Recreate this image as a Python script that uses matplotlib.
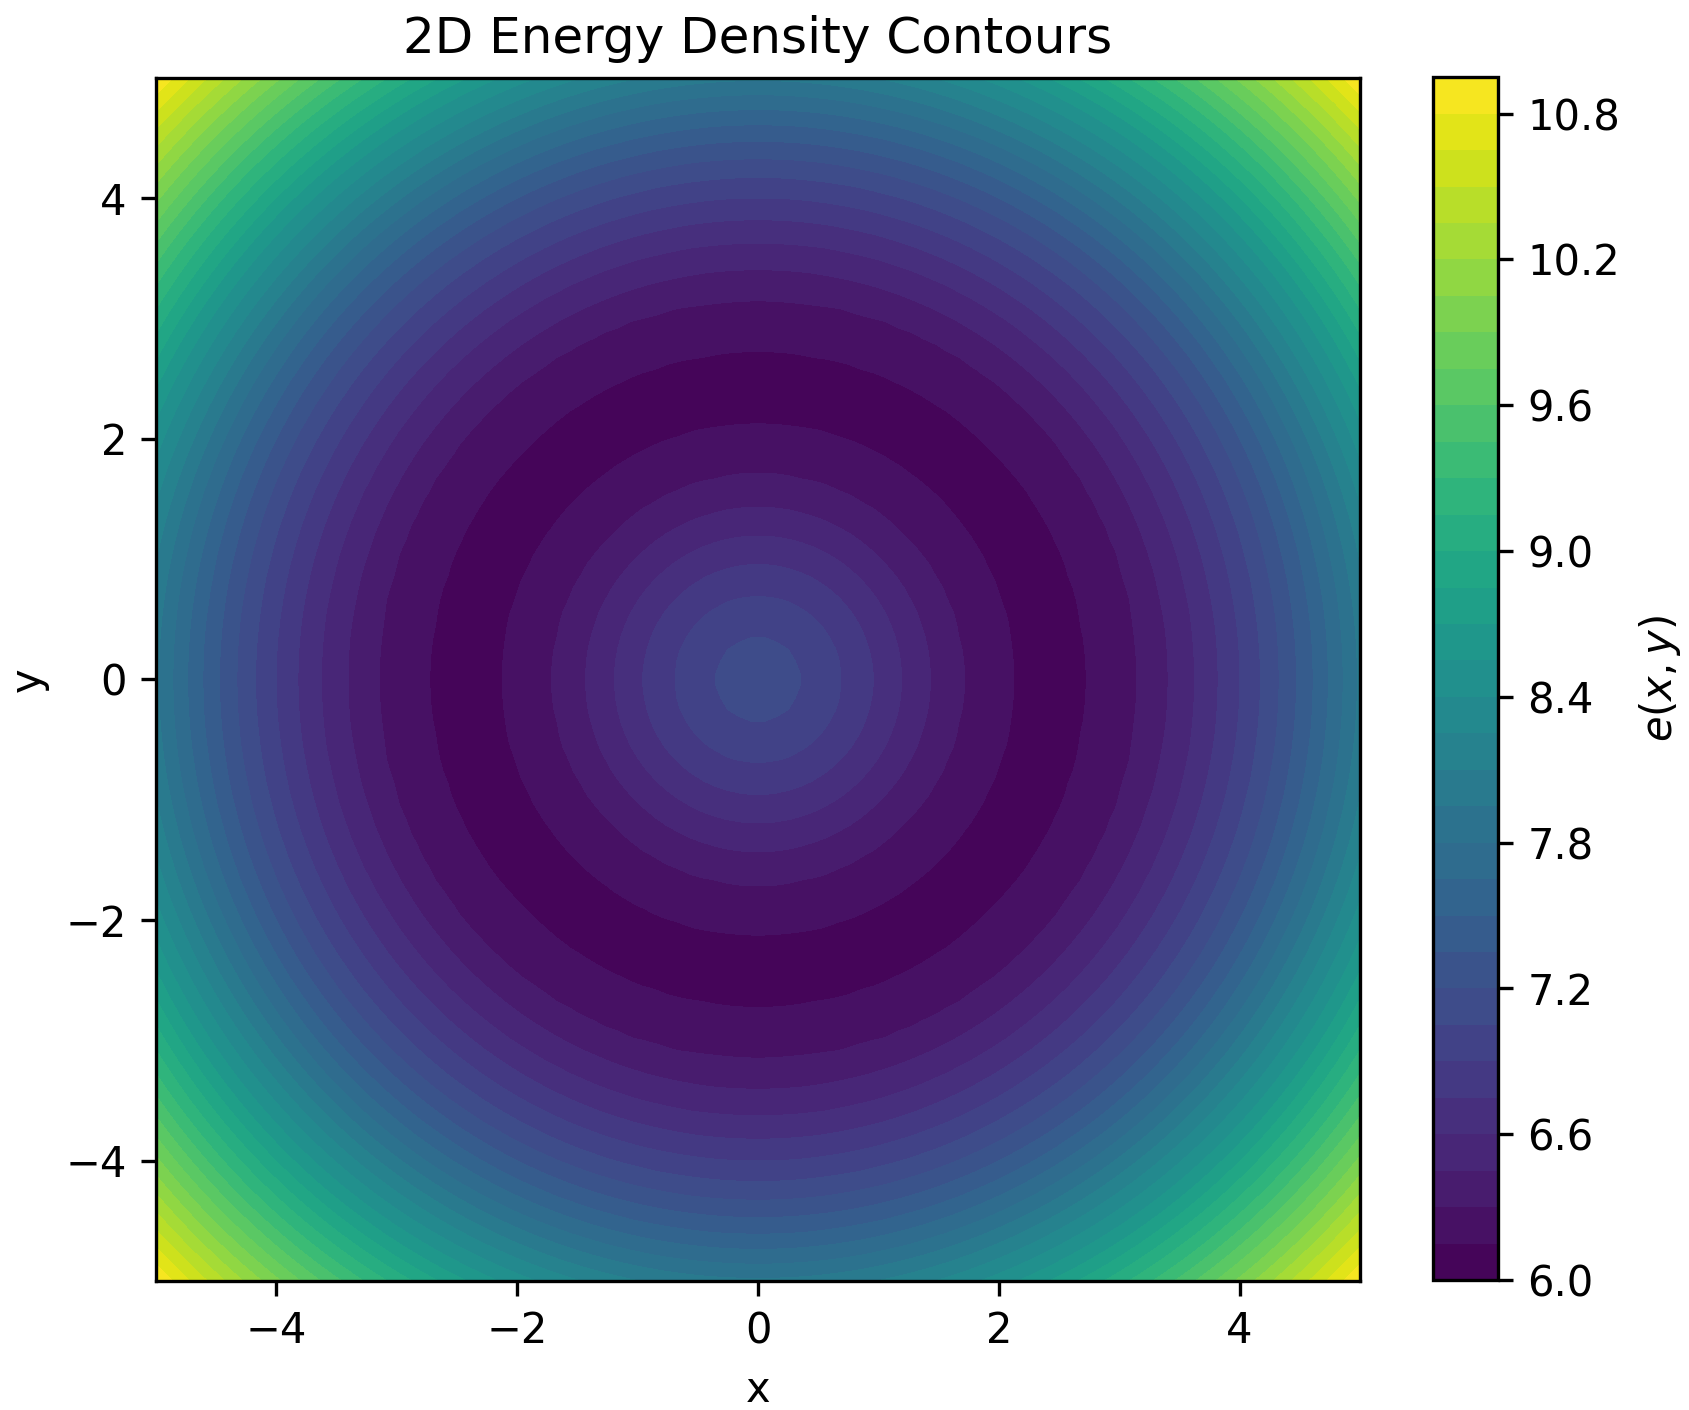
import numpy as np
import matplotlib
matplotlib.use('Agg')
import matplotlib.pyplot as plt

# radial profile of e(x, y)
radius = [0.0, 0.355, 0.695, 0.958, 1.193, 1.429, 1.705, 2.135, 2.42,
          2.716, 3.159, 3.408, 3.630, 3.823, 4.003, 4.175, 4.330, 4.474,
          4.612, 4.737, 4.862, 5.5, 6.0, 6.5, 7.08]
energy = [7.15, 7.05, 6.90, 6.75, 6.60, 6.45, 6.30, 6.15, 6.00,
          6.15, 6.30, 6.45, 6.60, 6.75, 6.90, 7.05, 7.20, 7.35,
          7.50, 7.65, 7.80, 8.62, 9.33, 10.08, 10.96]

e_min = 6.0
e_max = 10.95
n_levels = 34
cbar_ticks = [6.0, 6.6, 7.2, 7.8, 8.4, 9.0, 9.6, 10.2, 10.8]

x = np.linspace(-5, 5, 100)
y = np.linspace(-5, 5, 100)
X, Y = np.meshgrid(x, y)
R = np.sqrt(X**2 + Y**2)
E = np.interp(R, radius, energy)

fig = plt.figure(figsize=(5.63, 4.7), dpi=300)
ax1 = fig.add_axes([0.0924, 0.0915, 0.7128, 0.8532])
cax = fig.add_axes([0.8484, 0.0922, 0.0385, 0.8530])

levels = np.linspace(e_min, e_max, n_levels)
cs = ax1.contourf(X, Y, E, levels=levels, cmap='viridis')

ax1.set_xlim(-5, 5)
ax1.set_ylim(-5, 5)
ax1.set_xticks([-4, -2, 0, 2, 4])
ax1.set_yticks([-4, -2, 0, 2, 4])
ax1.set_xlabel('x')
ax1.set_ylabel('y')
ax1.set_title('2D Energy Density Contours')

cbar = fig.colorbar(cs, cax=cax)
cbar.set_ticks(cbar_ticks)
cbar.set_label('$e(x, y)$')

fig.savefig('out.png', dpi=300)
